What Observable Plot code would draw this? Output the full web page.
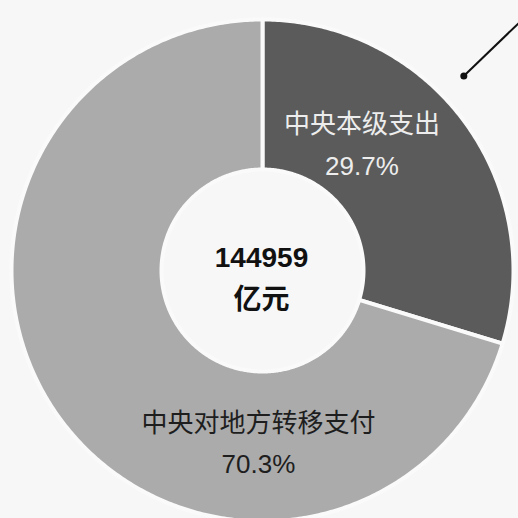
<!DOCTYPE html>
<html>
<head>
<meta charset="utf-8">
<script src="https://cdn.jsdelivr.net/npm/d3@7"></script>
<script src="https://cdn.jsdelivr.net/npm/@observablehq/plot@0.6"></script>
<style>
  html, body { margin: 0; padding: 0; background: #f7f7f7; }
  #chart { width: 518px; height: 518px; }
</style>
</head>
<body>
<div id="chart"></div>
<script>
// ---- data ----
const categories = ["中央本级支出", "中央对地方转移支付"];
const shares = [29.7, 70.3];
const shareLabels = ["29.7%", "70.3%"];
const totalValue = "144959";
const totalUnit = "亿元";

// ---- layout (pixels) ----
const W = 518, H = 518;
const CX = 262, CY = 270, R = 251, R0 = 101;
const colors = ["#5b5b5b", "#ababab"];
const textColors = ["#ededed", "#1e1e1e"];

// build slice polygons from the shares (angle 0 = 12 o'clock, clockwise)
const total = d3.sum(shares);
const polys = [];
let acc = 0;
categories.forEach((c, i) => {
  const a0 = acc / total * 2 * Math.PI;
  acc += shares[i];
  const a1 = acc / total * 2 * Math.PI;
  const n = Math.max(8, Math.ceil((a1 - a0) / 0.01));
  const pts = [];
  for (let k = 0; k <= n; k++) {
    const a = a0 + (a1 - a0) * k / n;
    pts.push({cat: c, x: Math.sin(a), y: Math.cos(a)});
  }
  for (let k = n; k >= 0; k--) {
    const a = a0 + (a1 - a0) * k / n;
    pts.push({cat: c, x: Math.sin(a) * R0 / R, y: Math.cos(a) * R0 / R});
  }
  pts.push({...pts[0]});
  polys.push(pts);
});

// label anchor positions (unit radius coords)
const labelPos = [[0.396, 0.516], [-0.016, -0.672]];
const labels = categories.map((c, i) => ({
  text: c + "\n" + shareLabels[i], x: labelPos[i][0], y: labelPos[i][1], fill: textColors[i]
}));

// leader line (annotation) pointing outward from the dark slice
const leadAngle = 46 * Math.PI / 180;
const leader = [{
  x1: Math.sin(leadAngle) * 1.115, y1: Math.cos(leadAngle) * 1.115,
  x2: Math.sin(leadAngle) * 1.5, y2: Math.cos(leadAngle) * 1.5
}];

const font = "'Liberation Sans', Arial, 'Noto Sans CJK SC', sans-serif";

const plot = Plot.plot({
  width: W, height: H,
  margin: 0,
  style: {background: "#f7f7f7", overflow: "hidden"},
  x: {domain: [-CX / R, (W - CX) / R], range: [0, W], axis: null},
  y: {domain: [-(H - CY) / R, CY / R], range: [H, 0], axis: null},
  marks: [
    ...polys.map((p, i) => Plot.line(p, {
      x: "x", y: "y", fill: colors[i], stroke: "#fafafa", strokeWidth: 4, curve: "linear"
    })),
    Plot.link(leader, {x1: "x1", y1: "y1", x2: "x2", y2: "y2", stroke: "#111", strokeWidth: 2}),
    Plot.dot(leader, {x: "x1", y: "y1", r: 3.5, fill: "#111"}),
    Plot.text(labels, {
      x: "x", y: "y", text: "text", fill: d => d.fill,
      fontSize: 26, lineHeight: 1.6, fontFamily: font, lineAnchor: "middle"
    }),
    Plot.text([totalValue + "\n" + totalUnit], {
      x: [-0.004], y: [-0.016], text: d => d, fill: "#111",
      fontSize: 28, fontWeight: "bold", lineHeight: 1.5, fontFamily: font, lineAnchor: "middle"
    })
  ]
});
document.getElementById("chart").appendChild(plot);
</script>
</body>
</html>
